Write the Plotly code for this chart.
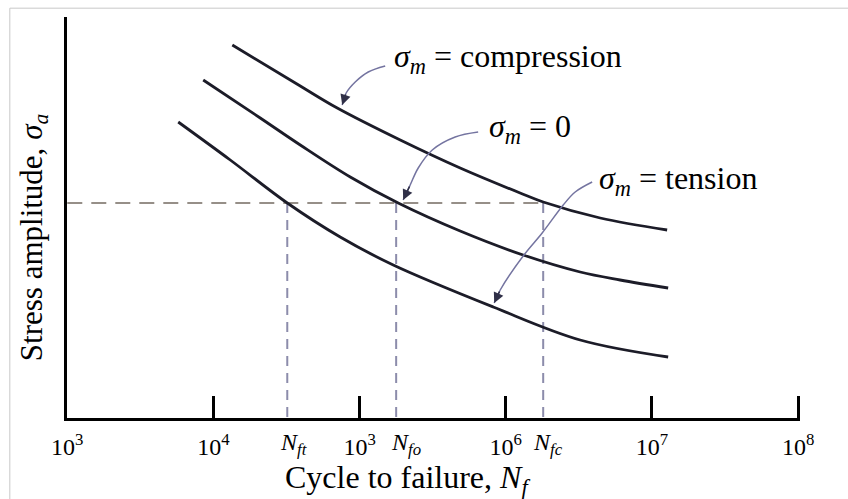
import plotly.graph_objects as go

# ---------------- data (log10 of cycles, stress amplitude in arbitrary units) ----------------
comp_logN = [4.129, 4.594, 4.847, 5.278, 5.688, 6.098, 6.256, 6.646, 7.104]
comp_sa   = [373, 332, 310, 278, 250, 225, 216, 200, 188]

zero_logN = [3.930, 4.320, 4.594, 4.936, 5.264, 5.688, 6.119, 6.509, 6.782, 7.111]
zero_sa   = [338, 300, 273, 241, 215, 187, 163, 146, 138, 130]

tens_logN = [3.759, 4.115, 4.505, 4.867, 5.230, 5.914, 6.509, 7.111]
tens_sa   = [296, 258, 215, 181, 153, 111, 78, 61]

sa_level = 215                       # dashed stress level
Nf_logN = {"ft": 4.505, "fo": 5.25, "fc": 6.256}

tick_logN = [3, 4, 5, 6, 7, 8]
tick_text = ["10<sup>3</sup>", "10<sup>4</sup>", "10<sup>3</sup>",
             "10<sup>6</sup>", "10<sup>7</sup>", "10<sup>8</sup>"]

# curved arrow shafts (log10 N, stress)
arrow_comp = ([5.175, 5.059, 4.970, 4.908, 4.881], [352, 346, 336, 325, 313])
arrow_zero = ([5.811, 5.654, 5.497, 5.401, 5.346, 5.298], [286, 281, 268, 250, 233, 218])
arrow_tens = ([6.591, 6.475, 6.393, 6.249, 6.119, 5.962, 5.921], [236, 226, 213, 185, 162, 128, 115])

FONT = "Liberation Serif"
CURVE = "#1c1c28"
DASH_V = "#8c8cab"
DASH_H = "#968f88"
ARROW = "#7474a0"

p10 = lambda arr: [10 ** v for v in arr]

fig = go.Figure()

# dashed construction lines
fig.add_trace(go.Scatter(x=p10([3, Nf_logN["fc"]]), y=[sa_level, sa_level], mode="lines",
                         line=dict(color=DASH_H, width=2, dash="15px,9px"), hoverinfo="skip"))
for k in ["ft", "fo", "fc"]:
    fig.add_trace(go.Scatter(x=p10([Nf_logN[k], Nf_logN[k]]), y=[sa_level, 0], mode="lines",
                             line=dict(color=DASH_V, width=2, dash="10px,7px"), hoverinfo="skip"))

# S-N curves
for lx, ly in [(comp_logN, comp_sa), (zero_logN, zero_sa), (tens_logN, tens_sa)]:
    fig.add_trace(go.Scatter(x=p10(lx), y=ly, mode="lines",
                             line=dict(color=CURVE, width=2.8, shape="spline"), hoverinfo="skip"))

# arrow shafts
annotations = []
for ax_, ay_ in [arrow_comp, arrow_zero, arrow_tens]:
    fig.add_trace(go.Scatter(x=p10(ax_), y=ay_, mode="lines",
                             line=dict(color=ARROW, width=1.5, shape="spline"), hoverinfo="skip"))
    annotations.append(dict(x=ax_[-1], y=ay_[-1], ax=ax_[-2], ay=ay_[-2], xref="x", yref="y",
                            axref="x", ayref="y", text="", showarrow=True, arrowhead=2,
                            arrowsize=1.3, arrowwidth=1.6, arrowcolor="#303048"))

sig = "<i>σ</i><sub><i>m</i></sub>"
label_font = dict(family=FONT, size=32, color="black")
annotations += [
    dict(x=5.22, y=360, xref="x", yref="y", text=sig + " = compression", showarrow=False,
         xanchor="left", yanchor="middle", font=label_font),
    dict(x=5.87, y=290, xref="x", yref="y", text=sig + " = 0", showarrow=False,
         xanchor="left", yanchor="middle", font=label_font),
    dict(x=6.625, y=238, xref="x", yref="y", text=sig + " = tension", showarrow=False,
         xanchor="left", yanchor="middle", font=label_font),
]

# N_f tick labels
for k, off in [("ft", 0.04), ("fo", 0.07), ("fc", 0.03)]:
    annotations.append(dict(x=Nf_logN[k] + off, y=-0.066, xref="x", yref="paper",
                            text="<i>N</i><sub><i>%s</i></sub>" % k, showarrow=False,
                            xanchor="center", yanchor="middle",
                            font=dict(family=FONT, size=24, color="black")))

# axis titles
annotations.append(dict(x=-0.045, y=0.451, xref="paper", yref="paper", textangle=-90,
                        text="Stress amplitude, <i>σ</i><sub><i>a</i></sub>", showarrow=False,
                        xanchor="center", yanchor="middle",
                        font=dict(family=FONT, size=31, color="black")))
annotations.append(dict(x=0.465, y=-0.154, xref="paper", yref="paper",
                        text="Cycle to failure, <i>N</i><sub><i>f</i></sub>", showarrow=False,
                        xanchor="center", yanchor="middle",
                        font=dict(family=FONT, size=32, color="black")))

fig.update_layout(
    width=848, height=499,
    margin=dict(l=67, r=48, t=17, b=81),
    paper_bgcolor="white", plot_bgcolor="white",
    showlegend=False,
    annotations=annotations,
    shapes=[
        dict(type="line", xref="paper", yref="paper", x0=-0.078, x1=1.07, y0=1.022, y1=1.022,
             line=dict(color="#c8c8c8", width=1)),
        dict(type="line", xref="paper", yref="paper", x0=-0.078, x1=-0.078, y0=1.022, y1=-0.21,
             line=dict(color="#c8c8c8", width=1)),
    ],
    xaxis=dict(type="log", range=[2.998, 8.013], tickvals=p10(tick_logN), ticktext=tick_text,
               ticks="inside", ticklen=22, tickwidth=3, tickcolor="black", ticklabelstandoff=5,
               showline=True, linewidth=3, linecolor="black", showgrid=False, zeroline=False,
               tickfont=dict(family=FONT, size=24, color="black")),
    yaxis=dict(range=[0, 401], showticklabels=False, ticks="", showline=True, linewidth=3,
               linecolor="black", showgrid=False, zeroline=False),
)

fig.write_html("out.html")
